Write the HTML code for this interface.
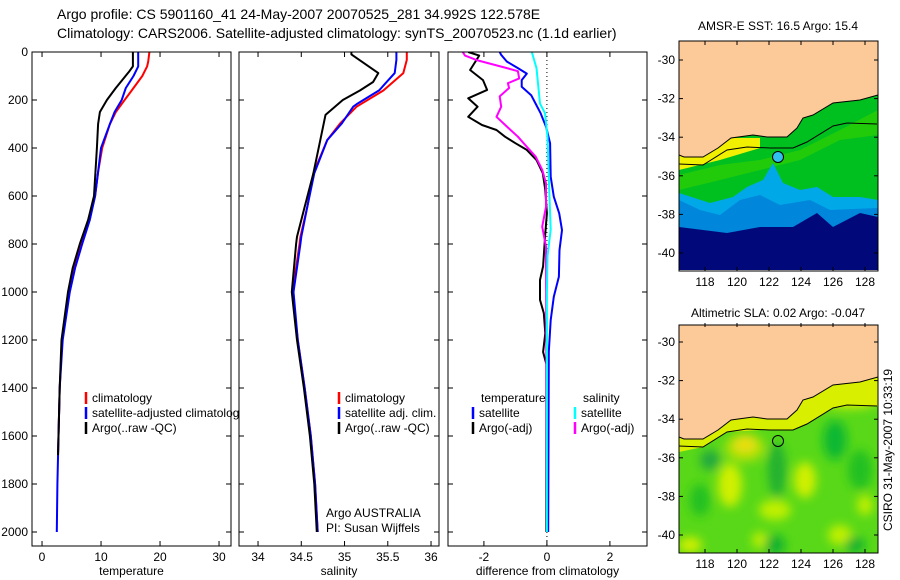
<!DOCTYPE html>
<html><head><meta charset="utf-8">
<style>
html,body{margin:0;padding:0;background:#fff;}
svg{display:block;font-family:"Liberation Sans",sans-serif;}
</style></head>
<body>
<svg id="fig" width="900" height="580" viewBox="0 0 900 580" xmlns="http://www.w3.org/2000/svg">
<defs>
<filter id="blur1"><feGaussianBlur stdDeviation="5"/></filter>
<clipPath id="m1clip"><rect x="679" y="41" width="199" height="229"/></clipPath>
<clipPath id="m2clip"><rect x="679" y="325" width="199" height="228"/></clipPath>
</defs>
<text x="57" y="19" font-size="14">Argo profile: CS 5901160_41 24-May-2007 20070525_281 34.992S 122.578E</text>
<text x="57" y="38" font-size="14">Climatology: CARS2006. Satellite-adjusted climatology: synTS_20070523.nc (1.1d earlier)</text>

<!-- Map 1 -->
<g>
<text x="778" y="30" font-size="12" text-anchor="middle">AMSR-E SST: 16.5 Argo: 15.4</text>
<g clip-path="url(#m1clip)">
<rect x="679" y="41" width="199" height="230" fill="#00c020"/>
<path d="M679,175 L720,165 L760,160 L800,150 L840,130 L878,110 L878,135 L840,140 L800,160 L760,170 L720,180 L679,190Z" fill="#30d000" opacity="0.7"/>
<path d="M679,193 L710,203 L733,197 L747,187 L763,180 L773,163 L783,183 L800,190 L817,187 L833,197 L860,197 L878,200 L878,271 L679,271Z" fill="#00a8e8"/>
<path d="M679,200 L700,210 L720,215 L740,200 L760,195 L780,205 L810,200 L830,210 L878,208 L878,271 L679,271Z" fill="#0070d0" opacity="0.6"/>
<path d="M679,227 L727,233 L760,227 L793,227 L817,213 L833,227 L860,213 L878,217 L878,271 L679,271Z" fill="#00087a"/>
<path d="M679,155 L703,157 L718,148 L731,138 L760,138 L760,148 L720,160 L679,170Z" fill="#f0f000"/>
<path d="M679,41 L878,41 L878,95 L860,100 L833,103 L813,115 L803,118 L797,128 L787,137 L767,137 L753,135 L731,138 L718,148 L703,157 L684,157 L679,155Z" fill="#fcca98" stroke="#000" stroke-width="1"/>
<polyline points="679,164 703,165 727,150 747,147 770,148 793,148 807,142 833,126 847,123 877,124" fill="none" stroke="#000" stroke-width="1"/>
<circle cx="778" cy="157" r="5.5" fill="#30c0f0" stroke="#000" stroke-width="1"/>
</g>
<rect x="679" y="41" width="199" height="230" fill="none" stroke="#000" stroke-width="1"/>
</g>

<!-- Map 2 -->
<g>
<text x="778" y="317" font-size="12" text-anchor="middle">Altimetric SLA: 0.02 Argo: -0.047</text>
<g clip-path="url(#m2clip)">
<rect x="679" y="325" width="199" height="228" fill="#58d818"/>
<g filter="url(#blur1)">
<ellipse cx="745" cy="444" rx="12" ry="9" fill="#f0d020"/>
<ellipse cx="745" cy="448" rx="20" ry="14" fill="#e8e800" opacity="0.6"/>
<ellipse cx="730" cy="485" rx="12" ry="22" fill="#d0f000"/>
<ellipse cx="805" cy="480" rx="11" ry="18" fill="#d0f000"/>
<ellipse cx="775" cy="510" rx="16" ry="10" fill="#c0f000"/>
<ellipse cx="690" cy="545" rx="12" ry="8" fill="#d0f000"/>
<ellipse cx="840" cy="535" rx="12" ry="10" fill="#c0f000"/>
<ellipse cx="760" cy="540" rx="8" ry="8" fill="#c0f000"/>
<ellipse cx="865" cy="505" rx="8" ry="10" fill="#c0f000"/>
<ellipse cx="710" cy="460" rx="10" ry="10" fill="#20a840"/>
<ellipse cx="777" cy="470" rx="9" ry="28" fill="#20b030"/>
<ellipse cx="835" cy="440" rx="12" ry="20" fill="#10b830"/>
<ellipse cx="700" cy="500" rx="10" ry="16" fill="#20c020"/>
<ellipse cx="860" cy="470" rx="12" ry="20" fill="#20c020"/>
<ellipse cx="775" cy="545" rx="10" ry="10" fill="#10b030"/>
<ellipse cx="855" cy="545" rx="10" ry="8" fill="#10b030"/>
<ellipse cx="850" cy="400" rx="28" ry="8" fill="#e0f000"/>
</g>
<path d="M679,437 L679,452 L703,447 L727,432 L760,430 L793,430 L807,424 L833,408 L847,405 L878,406 L878,377 L860,382 L833,385 L813,397 L803,400 L797,410 L787,419 L767,419 L753,417 L731,420 L718,430 L703,439 Z" fill="#d8f000"/>
<path d="M679,323 L878,323 L878,377 L860,382 L833,385 L813,397 L803,400 L797,410 L787,419 L767,419 L753,417 L731,420 L718,430 L703,439 L684,439 L679,437Z" fill="#fcca98" stroke="#000" stroke-width="1"/>
<polyline points="679,446 703,447 727,432 747,429 770,430 793,430 807,424 833,408 847,405 877,406" fill="none" stroke="#000" stroke-width="1"/>
<circle cx="778" cy="441" r="5.5" fill="none" stroke="#000" stroke-width="1"/>
</g>
<rect x="679" y="325" width="199" height="228" fill="none" stroke="#000" stroke-width="1"/>
</g>
<text transform="translate(892,450) rotate(-90)" font-size="12" text-anchor="middle">CSIRO 31-May-2007 10:33:19</text>
</svg>

<script>
// ---- data ----
var depthTicks = [0,200,400,600,800,1000,1200,1400,1600,1800,2000];
var tempTicks = [0,10,20,30];
var salTicks = [34,34.5,35,35.5,36];
var salTickLabels = ["34","34.5","35","35.5","36"];
var diffTicks = [-2,0,2];
var lonTicks = [118,120,122,124,126,128];
var latTicks = [-30,-32,-34,-36,-38,-40];

var tClimDepth = [0,40,60,100,150,200,250,300,400,500,600,700,800,900,1000,1200,1400,1600,1680];
var tClimVal   = [18.2,18,17.8,17,15.5,14,12.5,11.5,10.2,9.5,9,8,6.6,5.4,4.6,3.4,3,2.8,2.7];
var tSatDepth  = [0,60,100,150,200,250,300,400,500,600,700,800,900,1000,1200,1400,1600,1800,2000];
var tSatVal    = [16.3,16.3,15.5,14.2,13.5,12.3,11.5,10,9.5,9,8.1,6.8,5.6,4.7,3.5,3,2.8,2.6,2.5];
var tArgoDepth = [0,60,80,120,150,200,250,300,400,600,700,800,900,1000,1200,1400,1600,1680];
var tArgoVal   = [15.4,15.4,14.8,13.5,12.5,11,9.8,9.5,9.3,8.8,7.8,6.4,5.2,4.4,3.3,3,2.8,2.7];

var sClimDepth = [0,33,88,160,228,297,367,505,645,770,800,1000,1200,1400,1600,1800,2000];
var sClimVal   = [35.72,35.72,35.68,35.45,35.14,34.95,34.8,34.64,34.57,34.49,34.48,34.4,34.46,34.54,34.61,34.66,34.69];
var sSatDepth  = [0,33,88,160,215,228,297,367,505,645,770,800,1000,1200,1400,1600,1800,2000];
var sSatVal    = [35.6,35.6,35.58,35.4,35.15,35.1,34.97,34.8,34.65,34.57,34.5,34.49,34.41,34.46,34.54,34.61,34.66,34.69];
var sArgoDepth = [0,10,88,125,160,200,262,367,505,645,770,800,1000,1200,1400,1600,1800,2000];
var sArgoVal   = [35.08,35.08,35.39,35.33,35.18,34.98,34.78,34.72,34.64,34.54,34.45,34.44,34.39,34.45,34.53,34.6,34.65,34.68];

var dTArgoDepth = [0,15,75,117,158,193,228,270,304,325,353,380,408,450,505,575,672,755,893,950,1033,1088,1172,1250,1300,2000];
var dTArgoVal   = [-2.5,-2.15,-2.44,-2.03,-1.9,-2.5,-2.2,-2.5,-2.06,-1.6,-1.33,-1.0,-0.64,-0.33,-0.13,-0.05,0,-0.05,-0.12,-0.22,-0.22,-0.1,-0.05,-0.12,-0.02,-0.02];
var dSArgoDepth = [0,15,35,67,80,110,130,150,185,228,270,311,353,395,436,491,547,645,728,811,2000];
var dSArgoVal   = [-2.67,-2.6,-2.2,-1.27,-0.92,-0.88,-1.24,-1.2,-1.5,-1.45,-1.6,-1.27,-0.92,-0.64,-0.36,-0.15,-0.03,-0.03,-0.15,-0.03,0];
var dTSatDepth  = [0,12,40,67,90,117,145,180,215,255,311,380,520,603,672,742,825,936,1020,1117,1250,2000];
var dTSatVal    = [-1.5,-1.45,-1.27,-0.92,-0.64,-0.8,-0.8,-0.5,-0.36,-0.2,-0.03,0.1,0.12,0.22,0.39,0.48,0.4,0.38,0.22,0.12,0.06,0.04];
var dSSatDepth  = [0,67,215,255,353,560,740,850,1000,2000];
var dSSatVal    = [-0.48,-0.33,-0.22,-0.06,0.02,0.07,0.12,0.02,0,0];

// ---- drawing ----
var NS='http://www.w3.org/2000/svg';
var svg=document.getElementById('fig');
var TOP=52, BOT=546;
function yD(d){return TOP + d*0.24;}
function mk(tag,attrs,parent){var e=document.createElementNS(NS,tag);for(var k in attrs)e.setAttribute(k,attrs[k]);(parent||svg).appendChild(e);return e;}
var panels=[
 {x0:32,x1:231,vmin:-1.7,ppu:5.9,name:'temperature-panel',label:'temperature',ticks:tempTicks,tl:tempTicks.map(String)},
 {x0:239,x1:439,vmin:33.78,ppu:86.5,name:'salinity-panel',label:'salinity',ticks:salTicks,tl:salTickLabels},
 {x0:448,x1:647,vmin:-3.14,ppu:31.5,name:'difference-panel',label:'difference from climatology',ticks:diffTicks,tl:diffTicks.map(String)}
];
function xP(p,v){return p.x0+(v-p.vmin)*p.ppu;}
function series(p,g,depths,vals,color,name){
  var pts=depths.map(function(d,i){return xP(p,vals[i]).toFixed(1)+','+yD(d).toFixed(1);}).join(' ');
  var el=mk('polyline',{points:pts,fill:'none',stroke:color,'stroke-width':2,'stroke-linejoin':'round'},g);
  
  
}
panels.forEach(function(p,pi){
  var g=mk('g',{});
  
  
  mk('rect',{x:p.x0,y:TOP,width:p.x1-p.x0,height:BOT-TOP,fill:'#fff'},g);
  var cp=mk('clipPath',{id:'cp'+pi},g);
  mk('rect',{x:p.x0,y:TOP,width:p.x1-p.x0,height:BOT-TOP},cp);
  var dg=mk('g',{'clip-path':'url(#cp'+pi+')'},g);
  if(pi===0){
    series(p,dg,tClimDepth,tClimVal,'#ff0000','temp-climatology-line');
    series(p,dg,tSatDepth,tSatVal,'#0000ff','temp-satellite-line');
    series(p,dg,tArgoDepth,tArgoVal,'#000000','temp-argo-line');
  } else if(pi===1){
    series(p,dg,sClimDepth,sClimVal,'#ff0000','sal-climatology-line');
    series(p,dg,sSatDepth,sSatVal,'#0000ff','sal-satellite-line');
    series(p,dg,sArgoDepth,sArgoVal,'#000000','sal-argo-line');
  } else {
    var z=mk('line',{x1:xP(p,0),x2:xP(p,0),y1:TOP,y2:BOT,stroke:'#000','stroke-width':1,'stroke-dasharray':'1,3'},dg);
    
    
    series(p,dg,dTArgoDepth,dTArgoVal,'#000000','dtemp-argo-line');
    series(p,dg,dSArgoDepth,dSArgoVal,'#ff00ff','dsal-argo-line');
    series(p,dg,dTSatDepth,dTSatVal,'#0000ff','dtemp-satellite-line');
    series(p,dg,dSSatDepth,dSSatVal,'#00ffff','dsal-satellite-line');
  }
  mk('rect',{x:p.x0,y:TOP,width:p.x1-p.x0,height:BOT-TOP,fill:'none',stroke:'#000','stroke-width':1},g);
  p.ticks.forEach(function(t,i){
    var x=xP(p,t);
    mk('line',{x1:x,x2:x,y1:TOP,y2:TOP+5,stroke:'#000'},g);
    mk('line',{x1:x,x2:x,y1:BOT,y2:BOT-5,stroke:'#000'},g);
    var tx=mk('text',{x:x,y:BOT+15,'font-size':12,'text-anchor':'middle'},g);
    tx.textContent=p.tl[i];
    
    
  });
  depthTicks.forEach(function(d){
    var y=yD(d);
    mk('line',{x1:p.x0,x2:p.x0+5,y1:y,y2:y,stroke:'#000'},g);
    mk('line',{x1:p.x1,x2:p.x1-5,y1:y,y2:y,stroke:'#000'},g);
    if(pi===0){
      var tx=mk('text',{x:28,y:y+4,'font-size':12,'text-anchor':'end'},g);
      tx.textContent=String(d);
      
      
    }
  });
  var xl=mk('text',{x:(p.x0+p.x1)/2,y:575,'font-size':12,'text-anchor':'middle'},g);
  xl.textContent=p.label;
  
  
  p.g=g;
});
function legend(g,x,y,color,text,name){
  mk('line',{x1:x,x2:x,y1:y-10,y2:y+2,stroke:color,'stroke-width':2.5},g);
  var t=mk('text',{x:x+6,y:y,'font-size':12},g);
  t.textContent=text;
  
  
}
legend(panels[0].g,86,402,'#ff0000','climatology','legend-climatology');
legend(panels[0].g,86,417,'#0000ff','satellite-adjusted climatology','legend-satellite');
legend(panels[0].g,86,432,'#000000','Argo(..raw -QC)','legend-argo');
svg.appendChild(panels[1].g); svg.appendChild(panels[2].g);
legend(panels[1].g,339,402,'#ff0000','climatology','legend-climatology');
legend(panels[1].g,339,417,'#0000ff','satellite adj. clim.','legend-satellite');
legend(panels[1].g,339,432,'#000000','Argo(..raw -QC)','legend-argo');
var a1=mk('text',{x:326,y:517,'font-size':12},panels[1].g);a1.textContent='Argo AUSTRALIA';


var a2=mk('text',{x:326,y:532,'font-size':12},panels[1].g);a2.textContent='PI: Susan Wijffels';


var h1=mk('text',{x:481,y:402,'font-size':12},panels[2].g);h1.textContent='temperature';


var h2=mk('text',{x:583,y:402,'font-size':12},panels[2].g);h2.textContent='salinity';


legend(panels[2].g,473,417,'#0000ff','satellite','legend-temp-satellite');
legend(panels[2].g,473,432,'#000000','Argo(-adj)','legend-temp-argo');
legend(panels[2].g,575,417,'#00ffff','satellite','legend-sal-satellite');
legend(panels[2].g,575,432,'#ff00ff','Argo(-adj)','legend-sal-argo');

// map axes
function lonX(l){return 705+(l-118)*16;}
[[41,271],[323,553]].forEach(function(m){
  var top=m[0],bot=m[1];
  lonTicks.forEach(function(l){
    var x=lonX(l);
    mk('line',{x1:x,x2:x,y1:top,y2:top+4,stroke:'#000'});
    mk('line',{x1:x,x2:x,y1:bot,y2:bot-4,stroke:'#000'});
    var t=mk('text',{x:x,y:bot+15,'font-size':12,'text-anchor':'middle'});
    t.textContent=String(l);
    
    
  });
  latTicks.forEach(function(l){
    var y=top+19+(-30-l)*19.3;
    mk('line',{x1:679,x2:683,y1:y,y2:y,stroke:'#000'});
    mk('line',{x1:878,x2:874,y1:y,y2:y,stroke:'#000'});
    var t=mk('text',{x:675,y:y+4,'font-size':12,'text-anchor':'end'});
    t.textContent=String(l);
    
    
  });
});
</script>
</body></html>
